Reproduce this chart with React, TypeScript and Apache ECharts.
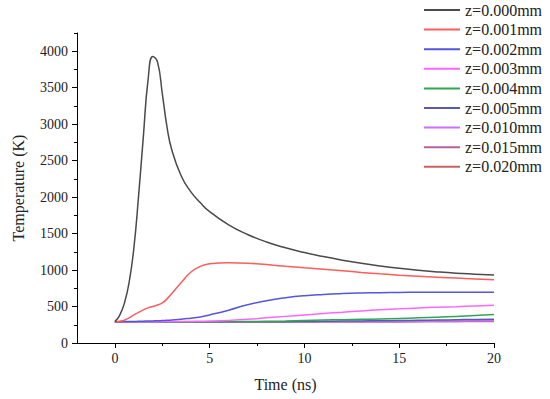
import React, { useEffect, useRef } from "react";
import * as echarts from "echarts";

const times = [0, 0.25, 0.5, 0.75, 1, 1.25, 1.5, 1.75, 2, 2.25, 2.5, 2.75, 3, 3.5, 4, 4.5, 5, 6, 7, 8, 9, 10, 11, 12, 13, 14, 15, 16, 17, 18, 19, 20];

const seriesNames = ["z=0.000mm", "z=0.001mm", "z=0.002mm", "z=0.003mm", "z=0.004mm", "z=0.005mm", "z=0.010mm", "z=0.015mm", "z=0.020mm"];

const z000 = [293, 380, 545, 830, 1300, 2020, 2830, 3610, 3928, 3850, 3420, 2960, 2650, 2290, 2075, 1925, 1800, 1620, 1488, 1385, 1305, 1240, 1185, 1136, 1093, 1056, 1024, 997, 975, 957, 944, 932];
const z001 = [293, 298, 312, 345, 385, 420, 455, 482, 500, 520, 550, 605, 678, 830, 970, 1050, 1085, 1100, 1095, 1075, 1052, 1030, 1010, 990, 968, 948, 930, 915, 902, 890, 879, 868];
const z002 = [293, 293, 294, 295, 296, 297, 299, 301, 303, 305, 308, 311, 315, 325, 340, 357, 385, 450, 525, 580, 620, 648, 665, 677, 685, 690, 693, 695, 696, 697, 697, 697];
const z003 = [293, 293, 293, 293, 293, 293, 293, 293, 293, 293, 293, 294, 294, 295, 296, 298, 300, 310, 325, 345, 365, 385, 405, 422, 440, 455, 468, 480, 490, 498, 507, 516];
const z004 = [293, 293, 293, 293, 293, 293, 293, 293, 293, 293, 293, 293, 293, 293, 293, 293, 293, 293, 295, 298, 302, 308, 314, 320, 325, 330, 337, 345, 354, 365, 377, 390];
const z005 = [293, 293, 293, 293, 293, 293, 293, 293, 293, 293, 293, 293, 293, 293, 293, 293, 293, 293, 293, 293, 293, 295, 297, 300, 302, 305, 308, 312, 315, 319, 323, 327];
const z010 = [293, 293, 293, 293, 293, 293, 293, 293, 293, 293, 293, 293, 293, 293, 293, 293, 293, 293, 293, 293, 293, 293, 293, 293, 294, 295, 296, 298, 300, 302, 304, 306];
const z015 = [293, 293, 293, 293, 293, 293, 293, 293, 293, 293, 293, 293, 293, 293, 293, 293, 293, 293, 293, 293, 293, 293, 293, 293, 293, 293, 293, 294, 295, 296, 298, 299];
const z020 = [293, 293, 293, 293, 293, 293, 293, 293, 293, 293, 293, 293, 293, 293, 293, 293, 293, 293, 293, 293, 293, 293, 293, 293, 293, 293, 293, 293, 294, 294, 295, 296];

const allValues = [z000, z001, z002, z003, z004, z005, z010, z015, z020];
const colors = ["#4a4a4a", "#ff5c5c", "#5555e0", "#ff66ff", "#2fa650", "#5a5ab0", "#cc70ff", "#b8609f", "#cc6060"];

const xMajor = [0, 5, 10, 15, 20];
const xMinor = [2.5, 7.5, 12.5, 17.5];
const yMajor = [0, 500, 1000, 1500, 2000, 2500, 3000, 3500, 4000];
const yMinor = [250, 750, 1250, 1750, 2250, 2750, 3250, 3750, 4250];

const FONT = "Liberation Serif";

export default function App() {
  const ref = useRef<HTMLDivElement>(null);
  useEffect(() => {
    if (!ref.current) return;
    const chart = echarts.init(ref.current, undefined, { renderer: "svg" });
    const axisLineStyle = { color: "#000", width: 1 };
    const fmt = (v: number) => String(v);
    chart.setOption({
      animation: false,
      backgroundColor: "#fff",
      grid: { left: 77, right: 56, top: 33, bottom: 56, containLabel: false },
      legend: {
        orient: "vertical",
        left: 423,
        top: 2,
        padding: 0,
        itemWidth: 36,
        itemHeight: 16,
        itemGap: 3.6,
        data: seriesNames,
        itemStyle: { opacity: 0 },
        textStyle: { fontFamily: FONT, fontSize: 16, color: "#222", lineHeight: 16 },
      },
      xAxis: [
        {
          type: "value",
          min: -2,
          max: 20,
          position: "bottom",
          axisLine: { show: true, onZero: false, lineStyle: axisLineStyle },
          axisTick: { show: true, length: 5, customValues: xMajor, lineStyle: axisLineStyle },
          axisLabel: { customValues: xMajor, formatter: fmt, margin: 8, fontFamily: FONT, fontSize: 14, color: "#222" },
          splitLine: { show: false },
          name: "Time (ns)",
          nameLocation: "middle",
          nameGap: 33,
          nameTextStyle: { fontFamily: FONT, fontSize: 16, fontWeight: "normal", color: "#222" },
        },
        {
          type: "value",
          min: -2,
          max: 20,
          position: "bottom",
          axisLine: { show: false, onZero: false },
          axisTick: { show: true, length: 3, customValues: xMinor, lineStyle: axisLineStyle },
          axisLabel: { show: false },
          splitLine: { show: false },
        },
      ],
      yAxis: [
        {
          type: "value",
          min: 0,
          max: 4250,
          position: "left",
          axisLine: { show: true, onZero: false, lineStyle: axisLineStyle },
          axisTick: { show: true, length: 5, customValues: yMajor, lineStyle: axisLineStyle },
          axisLabel: { customValues: yMajor, formatter: fmt, margin: 9, fontFamily: FONT, fontSize: 14, color: "#222" },
          splitLine: { show: false },
          name: "Temperature (K)",
          nameLocation: "middle",
          nameGap: 51,
          nameTextStyle: { fontFamily: FONT, fontSize: 16, fontWeight: "normal", color: "#222" },
        },
        {
          type: "value",
          min: 0,
          max: 4250,
          position: "left",
          axisLine: { show: false, onZero: false },
          axisTick: { show: true, length: 3, customValues: yMinor, lineStyle: axisLineStyle },
          axisLabel: { show: false },
          splitLine: { show: false },
        },
      ],
      series: seriesNames.map((name, i) => ({
        name,
        type: "line",
        xAxisIndex: 0,
        yAxisIndex: 0,
        data: times.map((t, j) => [t, allValues[i][j]]),
        symbol: "none",
        smooth: 0.5,
        lineStyle: { color: colors[i], width: 1.5 },
        itemStyle: { color: colors[i] },
        z: 10 - i,
      })),
    });
    return () => chart.dispose();
  }, []);
  return <div ref={ref} style={{ width: 550, height: 399, position: "absolute", left: 0, top: 0 }} />;
}
